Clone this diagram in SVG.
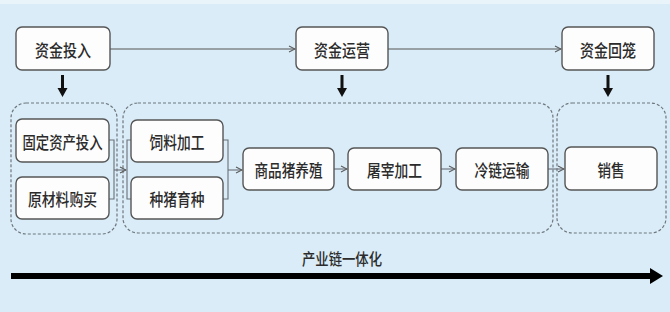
<svg xmlns="http://www.w3.org/2000/svg" width="670" height="312" viewBox="0 0 670 312">
<style>
.bg{fill:#d9ecf7}
.box{fill:#fdfdfd;stroke:#555;stroke-width:1.4}
.grp{fill:none;stroke:#6f767e;stroke-width:1.2;stroke-dasharray:3 2}
.t{font-family:"Noto Sans CJK SC","Noto Sans",sans-serif;font-size:17px;font-weight:500;fill:#2b2b2b;text-anchor:middle;dominant-baseline:central}
.ln{fill:none;stroke:#555;stroke-width:1.2}
.thin{fill:none;stroke:#6a7078;stroke-width:1.1}
</style>
<defs>
<marker id="ah" viewBox="0 0 8 8" refX="7" refY="4" markerWidth="8" markerHeight="8" markerUnits="userSpaceOnUse" orient="auto">
<path d="M1,1 L7,4 L1,7" fill="none" stroke="#5a5a5a" stroke-width="1.1"/>
</marker>
</defs>
<rect class="bg" x="0" y="0" width="670" height="312"/>
<rect x="0" y="0" width="670" height="4" fill="#e8f3fa"/>

<g id="groups">
<rect class="grp" x="11" y="103" width="106" height="131" rx="15"/>
<rect class="grp" x="123" y="103" width="430" height="130" rx="15"/>
<rect class="grp" x="557" y="103" width="109" height="130" rx="15"/>
</g>

<g id="connectors">
<line class="ln" x1="110" y1="49" x2="295" y2="49" marker-end="url(#ah)"/>
<line class="ln" x1="388" y1="49" x2="561" y2="49" marker-end="url(#ah)"/>
<path d="M61,75 h3 v13 h3.5 l-5,9 l-5,-9 h3.5 z" fill="#111"/>
<path d="M340.5,75 h3 v13 h3.5 l-5,9 l-5,-9 h3.5 z" fill="#111"/>
<path d="M606.5,75 h3 v13 h3.5 l-5,9 l-5,-9 h3.5 z" fill="#111"/>
<path class="thin" d="M109,140 H114 V199 H109"/>
<line class="thin" x1="114" y1="170" x2="126" y2="170" marker-end="url(#ah)"/>
<path class="thin" d="M131,140 H127 V199 H131"/>
<path class="thin" d="M223,140 H228 V199 H223"/>
<line class="thin" x1="228" y1="170" x2="242" y2="170" marker-end="url(#ah)"/>
<line class="thin" x1="334" y1="169" x2="347" y2="169" marker-end="url(#ah)"/>
<line class="thin" x1="441" y1="169" x2="455" y2="169" marker-end="url(#ah)"/>
<line class="thin" x1="548" y1="169" x2="564" y2="169" marker-end="url(#ah)"/>
<rect x="11" y="273" width="641" height="6" fill="#000"/>
<path d="M650,268 L663,276 L650,284 z" fill="#000"/>
</g>

<g id="n-zjtr"><rect class="box" x="16" y="27" width="94" height="43" rx="6"/><text class="t" x="63" y="49" textLength="56" lengthAdjust="spacingAndGlyphs">资金投入</text></g>
<g id="n-zjyy"><rect class="box" x="296" y="27" width="92" height="43" rx="6"/><text class="t" x="342" y="49" textLength="56" lengthAdjust="spacingAndGlyphs">资金运营</text></g>
<g id="n-zjhl"><rect class="box" x="562" y="27" width="92" height="43" rx="6"/><text class="t" x="608" y="49" textLength="56" lengthAdjust="spacingAndGlyphs">资金回笼</text></g>

<g id="n-gdzc"><rect class="box" x="16" y="119" width="93" height="43" rx="6"/><text class="t" x="62.5" y="141" textLength="80" lengthAdjust="spacingAndGlyphs">固定资产投入</text></g>
<g id="n-ycl"><rect class="box" x="16" y="177" width="93" height="42" rx="6"/><text class="t" x="62.5" y="198" textLength="69" lengthAdjust="spacingAndGlyphs">原材料购买</text></g>
<g id="n-slj"><rect class="box" x="131" y="120" width="92" height="42" rx="6"/><text class="t" x="177" y="141" textLength="55" lengthAdjust="spacingAndGlyphs">饲料加工</text></g>
<g id="n-zzyz"><rect class="box" x="131" y="177" width="92" height="42" rx="6"/><text class="t" x="177" y="198" textLength="55" lengthAdjust="spacingAndGlyphs">种猪育种</text></g>
<g id="n-spz"><rect class="box" x="243" y="148" width="91" height="42" rx="6"/><text class="t" x="288.5" y="169" textLength="68" lengthAdjust="spacingAndGlyphs">商品猪养殖</text></g>
<g id="n-tz"><rect class="box" x="348" y="148" width="93" height="42" rx="6"/><text class="t" x="394.5" y="169" textLength="55" lengthAdjust="spacingAndGlyphs">屠宰加工</text></g>
<g id="n-llys"><rect class="box" x="456" y="148" width="92" height="42" rx="6"/><text class="t" x="502" y="169" textLength="55" lengthAdjust="spacingAndGlyphs">冷链运输</text></g>
<g id="n-xs"><rect class="box" x="565" y="147" width="92" height="43" rx="6"/><text class="t" x="611" y="169" textLength="27" lengthAdjust="spacingAndGlyphs">销售</text></g>

<text class="t" x="342" y="258" style="font-size:16px" textLength="80" lengthAdjust="spacingAndGlyphs">产业链一体化</text>
</svg>
